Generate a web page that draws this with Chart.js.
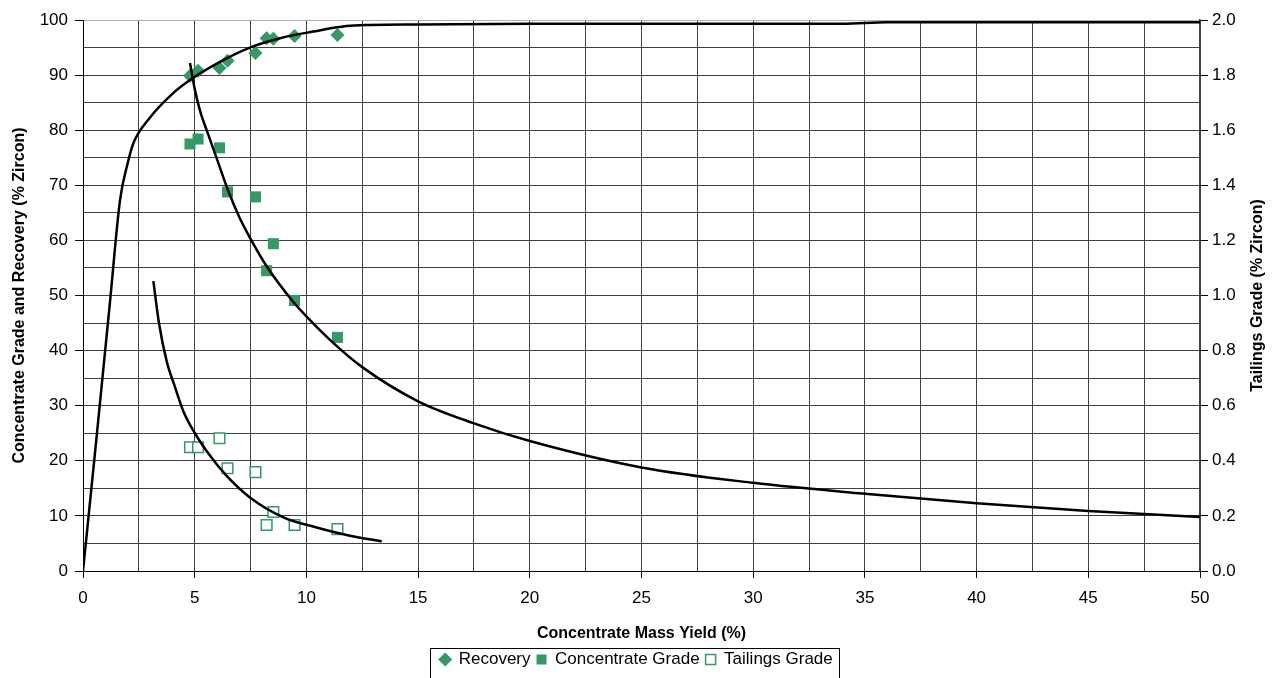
<!DOCTYPE html>
<html>
<head>
<meta charset="utf-8">
<script src="https://cdn.jsdelivr.net/npm/chart.js@4/dist/chart.umd.min.js"></script>
<style>
  html, body { margin: 0; padding: 0; background: #fff; }
  #wrap { width: 1273px; height: 678px; }
</style>
</head>
<body>
<div id="wrap"><canvas id="chart"></canvas></div>
<script>
/* ---- measured points ---- */
const sampleYield = [4.79, 5.15, 6.11, 6.47, 7.72, 8.22, 8.52, 9.47, 11.39];
const recovery    = [89.9, 90.8, 91.3, 92.6, 94.0, 96.7, 96.6, 97.1, 97.3];
const concGrade   = [77.5, 78.4, 76.8, 68.8, 67.9, 54.5, 59.4, 49.1, 42.4];
const tailGrade   = [0.449, 0.449, 0.482, 0.373, 0.359, 0.167, 0.214, 0.167, 0.152];

/* ---- fitted curves ---- */
const recFitX  = [0, 0.6, 1.2, 1.66, 2.0, 2.25, 3.0, 4.0, 4.79, 6.13, 7.47, 8.82, 10.3, 11.8, 12.85, 15, 20, 34, 36, 50];
const recFitY  = [0, 24, 48.5, 67.4, 74, 77.6, 82.3, 86.6, 89.1, 92.4, 95.0, 96.7, 97.9, 98.9, 99.1, 99.2, 99.3, 99.3, 99.6, 99.6];
const concFitX = [4.79, 5.0, 5.24, 5.6, 6.0, 6.5, 7.0, 7.47, 8.22, 9.4, 10, 11.2, 12.5, 15, 17.5, 20, 25, 30, 35, 40, 45, 50];
const concFitY = [92.2, 87.5, 83.5, 79.3, 74.7, 69.0, 64.2, 60.5, 55.3, 48.9, 46.2, 41.4, 37, 30.8, 26.8, 23.6, 18.8, 16, 14, 12.3, 10.9, 9.8];
const tailFitX = [3.15, 3.4, 3.75, 4.1, 4.49, 5.01, 5.69, 6.43, 7.47, 8.97, 10.46, 11.95, 13.37];
const tailFitY = [1.052, 0.9, 0.76, 0.672, 0.58, 0.5, 0.418, 0.345, 0.267, 0.195, 0.158, 0.128, 0.108];

const GREEN = "#339966";
const FONT = "'Liberation Sans', Arial, sans-serif";

const pts = (xs, ys) => xs.map((x, i) => ({ x, y: ys[i] }));

const fitLine = (xs, ys, axis) => ({
  label: "_fit",
  data: pts(xs, ys),
  yAxisID: axis,
  type: "line",
  borderColor: "#000",
  borderWidth: 2.5,
  pointRadius: 0,
  fill: false,
  cubicInterpolationMode: "monotone",
  order: 0
});

/* right-hand title reads bottom-to-top, drawn by hand + legend frame */
const extras = {
  id: "extras",
  afterDraw(chart) {
    const ctx = chart.ctx;
    const a = chart.chartArea;
    ctx.save();
    ctx.font = "bold 16px " + FONT;
    ctx.fillStyle = "#000";
    ctx.textAlign = "center";
    ctx.textBaseline = "middle";
    ctx.translate(1258, (a.top + a.bottom) / 2);
    ctx.rotate(-Math.PI / 2);
    ctx.fillText("Tailings Grade (% Zircon)", 0, 0);
    ctx.restore();

    const lg = chart.legend;
    if (lg && lg.legendHitBoxes.length) {
      const hb = lg.legendHitBoxes;
      const x0 = hb[0].left - 10;
      const last = hb[hb.length - 1];
      const x1 = last.left + last.width + 6;
      ctx.save();
      ctx.strokeStyle = "#000";
      ctx.lineWidth = 1;
      ctx.strokeRect(Math.round(x0) + 0.5, lg.top + 3.5, Math.round(x1 - x0), 40);
      ctx.restore();
    }
  }
};

new Chart(document.getElementById("chart"), {
  type: "scatter",
  data: {
    datasets: [
      {
        label: "Recovery",
        data: pts(sampleYield, recovery),
        yAxisID: "y",
        pointStyle: "rectRot",
        pointRadius: 7,
        backgroundColor: GREEN,
        borderColor: GREEN,
        borderWidth: 0,
        order: 1
      },
      {
        label: "Concentrate Grade",
        data: pts(sampleYield, concGrade),
        yAxisID: "y",
        pointStyle: "rect",
        pointRadius: 7.8,
        backgroundColor: GREEN,
        borderColor: GREEN,
        borderWidth: 0,
        order: 1
      },
      {
        label: "Tailings Grade",
        data: pts(sampleYield, tailGrade),
        yAxisID: "y2",
        pointStyle: "rect",
        pointRadius: 7.5,
        backgroundColor: "#fff",
        borderColor: GREEN,
        borderWidth: 1.5,
        order: 1
      },
      fitLine(recFitX, recFitY, "y"),
      fitLine(concFitX, concFitY, "y"),
      fitLine(tailFitX, tailFitY, "y2")
    ]
  },
  options: {
    responsive: true,
    maintainAspectRatio: false,
    animation: false,
    layout: { padding: { top: 20, right: 0, left: 0, bottom: 0 } },
    plugins: {
      tooltip: { enabled: false },
      legend: {
        position: "bottom",
        labels: {
          filter: (item) => item.text !== "_fit",
          usePointStyle: true,
          boxWidth: 10,
          boxHeight: 10,
          padding: 6,
          color: "#000",
          font: { family: FONT, size: 17 }
        }
      }
    },
    scales: {
      x: {
        type: "linear",
        min: 0,
        max: 50,
        border: { color: "#000", width: 1 },
        grid: {
          color: "#404040",
          tickLength: 7,
          tickColor: (c) => (c.tick && c.tick.value % 5 === 0 ? "#000" : "rgba(0,0,0,0)")
        },
        ticks: {
          stepSize: 2.5,
          autoSkip: false,
          maxRotation: 0,
          padding: 10,
          color: "#000",
          font: { family: FONT, size: 17 },
          callback: (v) => (v % 5 === 0 ? v : "")
        },
        title: {
          display: true,
          text: "Concentrate Mass Yield (%)",
          color: "#000",
          font: { family: FONT, size: 16, weight: "bold" },
          padding: { top: 0, bottom: 2 }
        },
        afterFit: (s) => { s.height = 74; }
      },
      y: {
        type: "linear",
        position: "left",
        min: 0,
        max: 100,
        border: { color: "#000", width: 1 },
        grid: {
          color: (c) => (c.tick && c.tick.value === 100 ? "#b0b0b0" : "#404040"),
          tickLength: 8,
          tickColor: (c) => (c.tick && c.tick.value % 10 === 0 ? "#000" : "rgba(0,0,0,0)")
        },
        ticks: {
          stepSize: 5,
          autoSkip: false,
          padding: 7,
          color: "#000",
          font: { family: FONT, size: 17 },
          callback: (v) => (v % 10 === 0 ? v : "")
        },
        title: {
          display: true,
          text: "Concentrate Grade and Recovery (% Zircon)",
          color: "#000",
          font: { family: FONT, size: 16, weight: "bold" },
          padding: { top: 10, bottom: 0 }
        },
        afterFit: (s) => { s.width = 83; }
      },
      y2: {
        type: "linear",
        position: "right",
        min: 0,
        max: 2,
        border: { color: "#404040", width: 1.5 },
        grid: { drawOnChartArea: false, tickLength: 8, tickColor: "#000" },
        ticks: {
          stepSize: 0.2,
          padding: 4,
          color: "#000",
          font: { family: FONT, size: 17 },
          callback: (v) => v.toFixed(1)
        },
        afterFit: (s) => { s.width = 73; }
      }
    }
  },
  plugins: [extras]
});
</script>
</body>
</html>
